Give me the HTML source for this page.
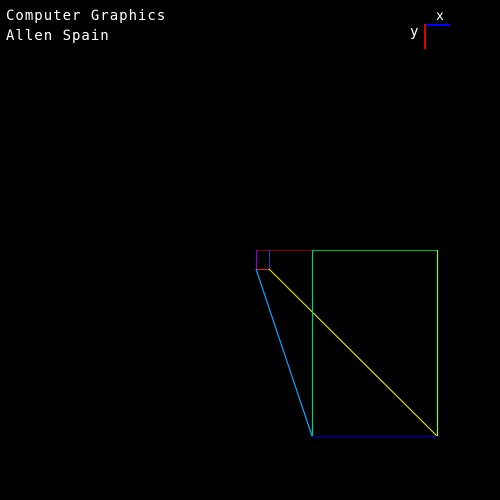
<!DOCTYPE html>
<html><head><meta charset="utf-8"><style>
html,body{margin:0;padding:0;background:#000;width:500px;height:500px;overflow:hidden}
svg{display:block}
text{font-family:"DejaVu Sans Mono","Liberation Mono",monospace;fill:#fff}
</style></head><body>
<svg width="500" height="500" viewBox="0 0 500 500">
<rect width="500" height="500" fill="#000"/>
<text x="6" y="20" font-size="14" letter-spacing="1">Computer Graphics</text>
<text x="6" y="40" font-size="14" letter-spacing="1">Allen Spain</text>
<text x="436" y="20" font-size="13">x</text>
<text x="410" y="36" font-size="14">y</text>
<line x1="426" y1="25" x2="450" y2="25" stroke="#0000ff" stroke-width="2"/>
<line x1="425" y1="24" x2="425" y2="49" stroke="#e00000" stroke-width="2"/>
<g id="shape"></g>
</svg>
<script>
const segX1=[256,312,256,269,256,256,269,312,437,312];
const segY1=[250,250,250,250,269,269,269,250,250,436];
const segX2=[312,437,256,269,269,312,437,312,437,437];
const segY2=[250,250,269,269,269,436,436,436,436,436];
const segColors=["#70001a","#00a040","#9000c0","#2040a0","#c03020","#10a0ff","#e0e000","#00d070","#a0f020","#0000b0"];
const segNames=["top-edge-left","top-edge-right","left-short-edge","inner-short-edge","small-bottom-edge","blue-diagonal","yellow-diagonal","green-vertical","right-vertical","bottom-edge"];
const g=document.getElementById('shape');
for(let i=0;i<segX1.length;i++){
  const l=document.createElementNS('http://www.w3.org/2000/svg','line');
  const v=(segX1[i]===segX2[i]), h=(segY1[i]===segY2[i]);
  l.setAttribute('x1',segX1[i]+(v?0.5:0));
  l.setAttribute('y1',segY1[i]+(h?0.5:0));
  l.setAttribute('x2',segX2[i]+(v?0.5:0));
  l.setAttribute('y2',segY2[i]+(h?0.5:0));
  l.setAttribute('stroke',segColors[i]);
  l.setAttribute('stroke-width','1.2');
  
  
  g.appendChild(l);
}
</script>
</body></html>
